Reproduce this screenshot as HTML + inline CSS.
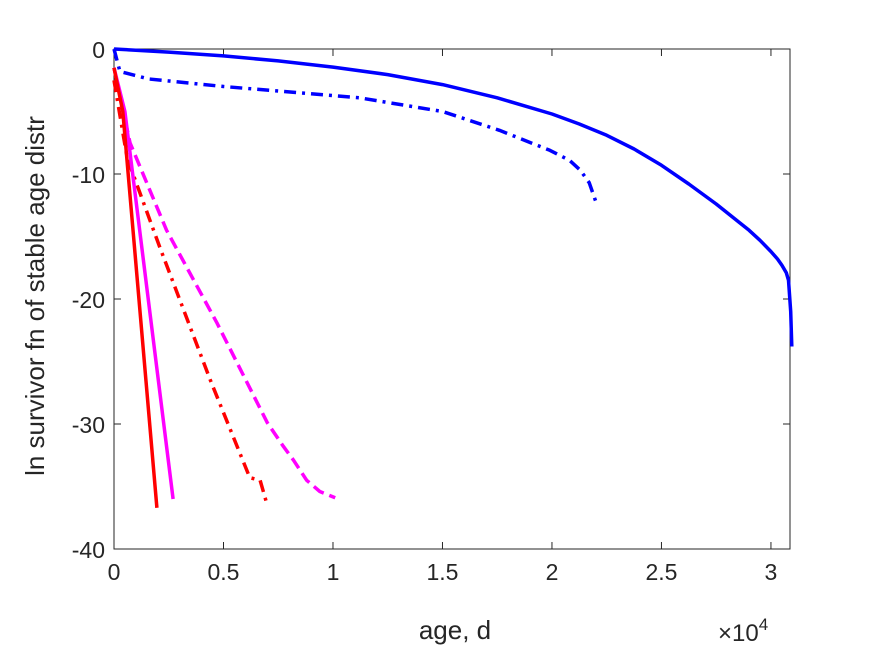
<!DOCTYPE html>
<html><head><meta charset="utf-8"><style>body{margin:0;background:#fff}svg{display:block;font-family:"Liberation Sans",sans-serif}</style></head>
<body>
<svg width="875" height="656" viewBox="0 0 875 656">
<rect x="0" y="0" width="875" height="656" fill="#fff"/>
<g id="plot"></g>
</svg>
<script>
const xTicks=[0,0.5,1,1.5,2,2.5,3];
const xTickLabels=["0","0.5","1","1.5","2","2.5","3"];
const yTicks=[0,-10,-20,-30,-40];
const yTickLabels=["0","-10","-20","-30","-40"];
// x in units of 10^4 days
const blueSolidX=[0,0.25,0.5,0.75,1,1.25,1.5,1.75,2,2.125,2.25,2.375,2.5,2.625,2.75,2.85,2.9,2.95,3,3.03,3.05,3.07,3.08,3.09,3.095];
const blueSolidY=[0,-0.25,-0.55,-0.95,-1.45,-2.05,-2.85,-3.9,-5.2,-6.0,-6.9,-8.0,-9.3,-10.8,-12.4,-13.8,-14.5,-15.3,-16.2,-16.8,-17.3,-17.9,-18.5,-21,-23.8];
const blueDashX=[0,0.027,0.16,0.5,1.12,1.5,1.76,1.99,2.08,2.13,2.17,2.2];
const blueDashY=[0,-1.8,-2.4,-3.0,-3.9,-5.0,-6.5,-8.1,-8.9,-9.7,-10.7,-12.2];
const redSolidX=[0,0.04,0.196];
const redSolidY=[-1.5,-5,-36.7];
const magSolidX=[0,0.05,0.27];
const magSolidY=[-1.5,-5,-36.0];
const redDashX=[0,0.06,0.21,0.44,0.62,0.667,0.70];
const redDashY=[-2.5,-8.7,-15.9,-26.5,-34.3,-34.5,-36.5];
const magDashX=[0,0.073,0.24,0.47,0.70,0.77,0.82,0.88,0.94,1.01];
const magDashY=[-1.5,-7.5,-14.5,-21.9,-29.9,-31.7,-32.9,-34.5,-35.4,-35.9];

const L=114,R=790,T=49,B=549,XMAX=3.087,YMIN=-40;
const sx=v=>L+v/XMAX*(R-L);
const sy=v=>T+(v/YMIN)*(B-T);
const NS="http://www.w3.org/2000/svg";
const g=document.getElementById('plot');
function mk(t,a){const e=document.createElementNS(NS,t);for(const k in a)e.setAttribute(k,a[k]);g.appendChild(e);return e;}
const box=mk('rect',{x:L,y:T,width:R-L,height:B-T,fill:'none',stroke:'#262626','stroke-width':1});


xTicks.forEach((v,i)=>{
 const x=sx(v);
 const t1=mk('line',{x1:x,x2:x,y1:B,y2:B-7,stroke:'#262626'});
 
 
 const t2=mk('line',{x1:x,x2:x,y1:T,y2:T+7,stroke:'#262626'});
 
 
 const tx=mk('text',{x:x,y:B+31,'text-anchor':'middle','font-size':23,fill:'#262626'});
 tx.textContent=xTickLabels[i];
 
 
});
yTicks.forEach((v,i)=>{
 const y=sy(v);
 const t1=mk('line',{x1:L,x2:L+7,y1:y,y2:y,stroke:'#262626'});
 
 
 const t2=mk('line',{x1:R,x2:R-7,y1:y,y2:y,stroke:'#262626'});
 
 
 const tx=mk('text',{x:L-9,y:y+9,'text-anchor':'end','font-size':23,fill:'#262626'});
 tx.textContent=yTickLabels[i];
 
 
});
function series(xs,ys,color,dash,name){
 const d=xs.map((x,i)=>(i?'L':'M')+sx(x).toFixed(1)+' '+sy(ys[i]).toFixed(1)).join(' ');
 const a={d:d,fill:'none',stroke:color,'stroke-width':3.5,'stroke-linejoin':'round'};
 if(dash)a['stroke-dasharray']=dash;
 const p=mk('path',a);
 
 
}
series(blueSolidX,blueSolidY,'#0000ff',null,'blue-solid-line');
series(blueDashX,blueDashY,'#0000ff','12 6 3 6','blue-dashdot-line');
series(redDashX,redDashY,'#ff0000','12 6 3 6','red-dashdot-line');
series(magDashX,magDashY,'#ff00ff','12 6','magenta-dashed-line');
series(magSolidX,magSolidY,'#ff00ff',null,'magenta-solid-line');
series(redSolidX,redSolidY,'#ff0000',null,'red-solid-line');
const xl=mk('text',{x:455,y:639,'text-anchor':'middle','font-size':26,fill:'#262626'});
xl.textContent='age, d';


const ex=mk('text',{x:718,y:641,'font-size':24,fill:'#262626'});
ex.innerHTML='×10<tspan dy="-11" font-size="17">4</tspan>';


const yl=mk('text',{x:0,y:0,'text-anchor':'middle','font-size':26,fill:'#262626',transform:'translate(44,296) rotate(-90)'});
yl.textContent='ln survivor fn of stable age distr';


</script>
</body></html>
